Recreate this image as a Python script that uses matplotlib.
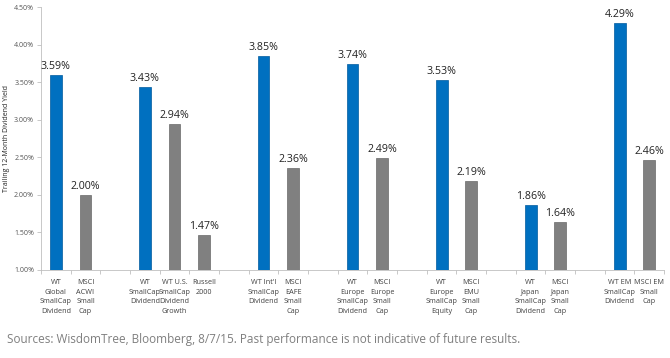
import matplotlib.pyplot as plt
import numpy as np

labels = ["WT\nGlobal\nSmallCap\nDividend", "MSCI\nACWI\nSmall\nCap", "",
          "WT\nSmallCap\nDividend", "WT U.S.\nSmallCap\nDividend\nGrowth", "Russell\n2000", "",
          "WT Int'l\nSmallCap\nDividend", "MSCI\nEAFE\nSmall\nCap", "",
          "WT\nEurope\nSmallCap\nDividend", "MSCI\nEurope\nSmall\nCap", "",
          "WT\nEurope\nSmallCap\nEquity", "MSCI\nEMU\nSmall\nCap", "",
          "WT\nJapan\nSmallCap\nDividend", "MSCI\nJapan\nSmall\nCap", "",
          "WT EM\nSmallCap\nDividend", "MSCI EM\nSmall\nCap"]
values = [3.59, 2.00, None, 3.43, 2.94, 1.47, None, 3.85, 2.36, None,
          3.74, 2.49, None, 3.53, 2.19, None, 1.86, 1.64, None, 4.29, 2.46]
is_wt = [True, False, None, True, False, False, None, True, False, None,
         True, False, None, True, False, None, True, False, None, True, False]

blue = "#0070C0"
grey = "#808080"

plt.rcParams['font.family'] = ['Open Sans', 'DejaVu Sans']

fig = plt.figure(figsize=(6.7, 3.58), dpi=100)
ax = fig.add_axes([0.0612, 0.246, 0.930, 0.734])

for i, v in enumerate(values):
    if v is None:
        continue
    c = blue if is_wt[i] else grey
    ec = "#005A9E" if is_wt[i] else "#6A6A6A"
    ax.bar(i, v - 1.0, bottom=1.0, width=0.4, color=c, edgecolor=ec, linewidth=0.5)
    ax.text(i, v + 0.04, "%.2f%%" % v, ha="center", va="bottom", fontsize=7.7, color="#222222")

ax.set_xlim(-0.5, len(values) - 0.5)
ax.set_ylim(1.0, 4.5)
ax.set_yticks(np.arange(1.0, 4.51, 0.5))
ax.set_yticklabels(["%.2f%%" % t for t in np.arange(1.0, 4.51, 0.5)], fontsize=5, color="#555555")
ax.set_xticks(range(len(values)))
ax.set_xticklabels([""] * len(values))
ax.set_xticks(np.arange(-0.5, len(values), 1), minor=True)
ax.tick_params(axis="x", which="major", length=0)
ax.tick_params(axis="x", which="minor", length=3, color="#BFBFBF", width=0.6)
ax.tick_params(axis="y", length=3, color="#BFBFBF", width=0.6, pad=2)

for i, lab in enumerate(labels):
    ax.text(i, 0.88, lab, ha="center", va="top", fontsize=5.2, color="#404040",
            linespacing=1.55, transform=ax.transData)

for s in ["top", "right"]:
    ax.spines[s].set_visible(False)
ax.spines["left"].set_color("#BFBFBF")
ax.spines["bottom"].set_color("#BFBFBF")
ax.spines["left"].set_linewidth(0.6)
ax.spines["bottom"].set_linewidth(0.6)

ax.set_ylabel("Trailing 12-Month Dividend Yield", fontsize=5, color="#222222", labelpad=3)

fig.text(0.0105, 0.053, "Sources: WisdomTree, Bloomberg, 8/7/15. Past performance is not indicative of future results.",
         fontsize=8.5, color="#7F7F7F", ha="left", va="center")

fig.savefig("out.png", dpi=100)
